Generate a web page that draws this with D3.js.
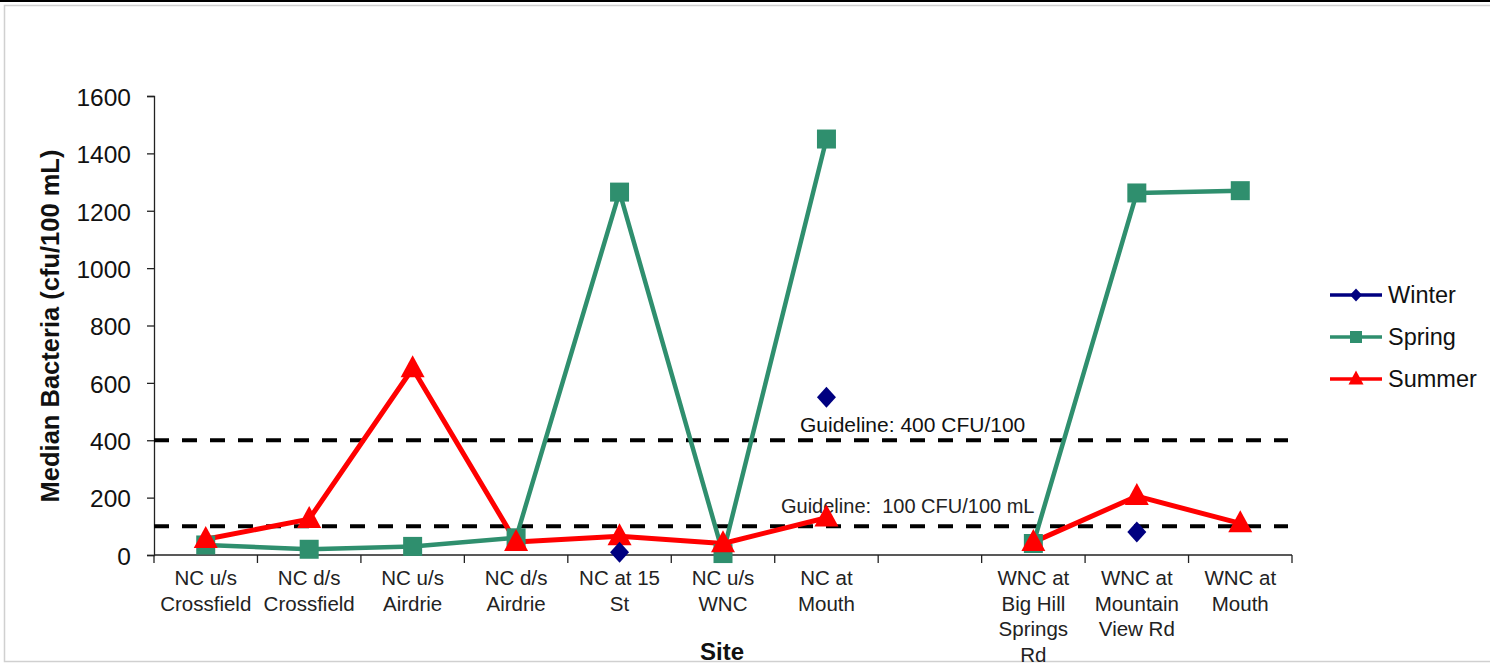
<!DOCTYPE html>
<html>
<head>
<meta charset="utf-8">
<script src="https://cdn.jsdelivr.net/npm/d3@7"></script>
<style>
  html, body { margin: 0; padding: 0; background: #fff; }
  svg { display: block; font-family: "Liberation Sans", Arial, sans-serif; }
</style>
</head>
<body>
<svg id="chart" width="1490" height="666"></svg>
<script>
// Sites along Nose Creek (NC) and West Nose Creek (WNC); the blank entry separates the two creeks.
const sites = [
  "NC u/s\nCrossfield",
  "NC d/s\nCrossfield",
  "NC u/s\nAirdrie",
  "NC d/s\nAirdrie",
  "NC at 15\nSt",
  "NC u/s\nWNC",
  "NC at\nMouth",
  "",
  "WNC at\nBig Hill\nSprings\nRd",
  "WNC at\nMountain\nView Rd",
  "WNC at\nMouth"
];

// Median bacteria counts (cfu/100 mL) per season; null = not sampled.
const winter = [null, null, null, null, 10, null, 550, null, null, 80, null];
const spring = [35, 20, 30, 60, 1265, 5, 1450, null, 40, 1262, 1270];
const summer = [55, 125, 650, 45, 65, 40, 130, null, 45, 205, 110];

const yTicks = [0, 200, 400, 600, 800, 1000, 1200, 1400, 1600];

const guidelines = [
  { value: 400, label: "Guideline: 400 CFU/100" },
  { value: 100, label: "Guideline:  100 CFU/100 mL" }
];

const seriesNames = ["Winter", "Spring", "Summer"];

const svg = d3.select("#chart");

// Outer frame
svg.append("rect")
  .attr("x", 4.5).attr("y", 5.5).attr("width", 1500).attr("height", 656)
  .attr("fill", "none").attr("stroke", "#d0d0d0").attr("stroke-width", 1.5);
svg.append("line")
  .attr("x1", 0).attr("x2", 1490).attr("y1", 1).attr("y2", 1)
  .attr("stroke", "#000").attr("stroke-width", 2);

const plot = { left: 154, right: 1292, top: 96, bottom: 555 };

const x = d3.scaleBand()
  .domain(d3.range(sites.length))
  .range([plot.left, plot.right])
  .padding(0);

const y = d3.scaleLinear()
  .domain([0, 1600])
  .range([plot.bottom, plot.top]);

const cx = i => x(i) + x.bandwidth() / 2;

// Y axis
const yAxis = svg.append("g")
  .attr("transform", `translate(${plot.left},0)`)
  .call(d3.axisLeft(y).tickValues(yTicks).tickSize(7).tickPadding(16).tickFormat(d3.format("d")));
yAxis.select(".domain").attr("stroke", "#222").attr("stroke-width", 1.3);
yAxis.selectAll(".tick line").attr("stroke", "#222").attr("stroke-width", 1.3);
yAxis.selectAll(".tick text")
  .attr("font-size", 24.5)
  .attr("font-family", "Liberation Sans, Arial, sans-serif")
  .attr("fill", "#111")
  .attr("dy", "0.38em");

// X axis line and tick marks at category boundaries
const xg = svg.append("g");
xg.append("line")
  .attr("x1", plot.left).attr("x2", plot.right)
  .attr("y1", plot.bottom).attr("y2", plot.bottom)
  .attr("stroke", "#222").attr("stroke-width", 1.3);
const bounds = d3.range(sites.length + 1).map(i => i < sites.length ? x(i) : plot.right);
xg.selectAll("line.tk").data(bounds).join("line")
  .attr("class", "tk")
  .attr("x1", d => d).attr("x2", d => d)
  .attr("y1", plot.bottom).attr("y2", plot.bottom + 8)
  .attr("stroke", "#222").attr("stroke-width", 1.3);

// Category labels
const catLabels = xg.selectAll("text.cat").data(sites).join("text")
  .attr("class", "cat")
  .attr("x", (d, i) => cx(i))
  .attr("y", 585)
  .attr("text-anchor", "middle")
  .attr("font-size", 20.5)
  .attr("fill", "#222");
catLabels.each(function(d) {
  const t = d3.select(this);
  d.split("\n").forEach((line, k) => {
    t.append("tspan").attr("x", t.attr("x")).attr("dy", k === 0 ? 0 : 25.5).text(line);
  });
});

// Axis titles
svg.append("text")
  .attr("transform", "translate(59,326) rotate(-90)")
  .attr("text-anchor", "middle")
  .attr("font-size", 25.5)
  .attr("font-weight", "bold")
  .attr("fill", "#111")
  .text("Median Bacteria (cfu/100 mL)");

svg.append("text")
  .attr("x", 722).attr("y", 660)
  .attr("text-anchor", "middle")
  .attr("font-size", 24)
  .attr("font-weight", "bold")
  .attr("fill", "#111")
  .text("Site");

// Guideline lines and labels
svg.selectAll("line.guide").data(guidelines).join("line")
  .attr("class", "guide")
  .attr("x1", plot.left).attr("x2", plot.right - 4)
  .attr("y1", d => y(d.value)).attr("y2", d => y(d.value))
  .attr("stroke", "#000").attr("stroke-width", 4)
  .attr("stroke-dasharray", "15 13");

svg.append("text")
  .attr("x", 800).attr("y", y(guidelines[0].value) - 8)
  .attr("font-size", 21).attr("fill", "#111")
  .text(guidelines[0].label);
svg.append("text")
  .attr("x", 781).attr("y", y(guidelines[1].value) - 13)
  .attr("font-size", 20).attr("fill", "#222")
  .attr("xml:space", "preserve")
  .style("white-space", "pre")
  .text(guidelines[1].label);

// Series styling
const GREEN = "#2f8f6e", RED = "#ff0000", NAVY = "#000080";

const line = d3.line()
  .defined(d => d.v !== null)
  .x(d => cx(d.i))
  .y(d => y(d.v));

const toPts = arr => arr.map((v, i) => ({ i, v }));

svg.append("path")
  .datum(toPts(spring))
  .attr("d", line)
  .attr("fill", "none").attr("stroke", GREEN).attr("stroke-width", 4.5)
  .attr("stroke-linejoin", "round");

svg.append("path")
  .datum(toPts(summer))
  .attr("d", line)
  .attr("fill", "none").attr("stroke", RED).attr("stroke-width", 5)
  .attr("stroke-linejoin", "round");

// Marker shapes
const squarePath = s => `M${-s/2},${-s/2}h${s}v${s}h${-s}Z`;
const trianglePath = (w, h) => `M0,${-h*0.6}L${w/2},${h*0.4}L${-w/2},${h*0.4}Z`;
const diamondPath = (w, h) => `M0,${-h/2}L${w/2},0L0,${h/2}L${-w/2},0Z`;

svg.selectAll("path.sp").data(toPts(spring).filter(d => d.v !== null)).join("path")
  .attr("class", "sp")
  .attr("transform", d => `translate(${cx(d.i)},${y(d.v)})`)
  .attr("d", squarePath(19))
  .attr("fill", GREEN);

svg.selectAll("path.su").data(toPts(summer).filter(d => d.v !== null)).join("path")
  .attr("class", "su")
  .attr("transform", d => `translate(${cx(d.i)},${y(d.v)})`)
  .attr("d", trianglePath(24, 22))
  .attr("fill", RED);

svg.selectAll("path.wi").data(toPts(winter).filter(d => d.v !== null)).join("path")
  .attr("class", "wi")
  .attr("transform", d => `translate(${cx(d.i)},${y(d.v)})`)
  .attr("d", diamondPath(19, 21))
  .attr("fill", NAVY);

// Legend
const legendItems = [
  { name: seriesNames[0], color: NAVY, shape: diamondPath(12, 13) },
  { name: seriesNames[1], color: GREEN, shape: squarePath(12) },
  { name: seriesNames[2], color: RED, shape: trianglePath(15, 14) }
];
const legend = svg.append("g").attr("transform", "translate(1330,295)");
const li = legend.selectAll("g").data(legendItems).join("g")
  .attr("transform", (d, k) => `translate(0,${k * 42})`);
li.append("line")
  .attr("x1", 0).attr("x2", 52).attr("y1", 0).attr("y2", 0)
  .attr("stroke", d => d.color).attr("stroke-width", 3.5);
li.append("path")
  .attr("transform", "translate(26,0)")
  .attr("d", d => d.shape)
  .attr("fill", d => d.color);
li.append("text")
  .attr("x", 58).attr("y", 0).attr("dy", "0.36em")
  .attr("font-size", 23.5).attr("fill", "#111")
  .text(d => d.name);
</script>
</body>
</html>
